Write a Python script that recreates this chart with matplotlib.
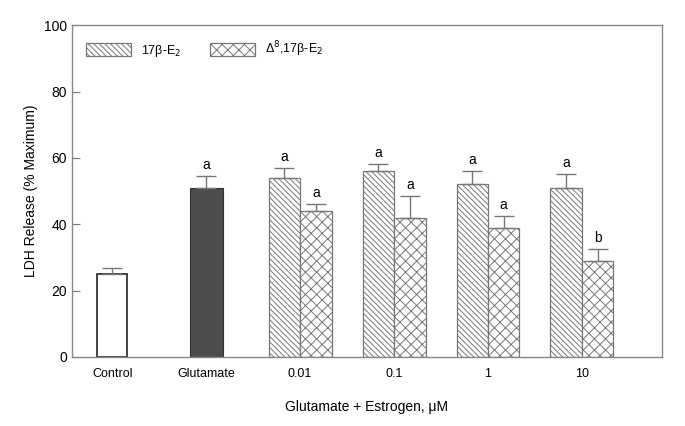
import numpy as np
import matplotlib.pyplot as plt

plt.rcParams['font.family'] = ['Liberation Sans', 'DejaVu Sans']
plt.rcParams['hatch.color'] = '#777777'
plt.rcParams['hatch.linewidth'] = 0.7

# data
single_labels = ["Control", "Glutamate"]
single_vals = [25, 51]
single_err = [1.8, 3.6]
single_sig = ["", "a"]

doses = ["0.01", "0.1", "1", "10"]
e2_vals = [54, 56, 52, 51]
e2_err = [3.0, 2.2, 4.0, 4.2]
e2_sig = ["a", "a", "a", "a"]
d8_vals = [44, 42, 39, 29]
d8_err = [2.0, 6.5, 3.6, 3.6]
d8_sig = ["a", "a", "a", "b"]

fig = plt.figure(figsize=(6.85, 4.26), dpi=100)
ax = fig.add_axes([0.105, 0.162, 0.861, 0.779])

edge = '#777777'
w1 = 0.32
w2 = 0.335

# control and glutamate
ax.bar(0, single_vals[0], w1, color='white', edgecolor='#222222', linewidth=1.2, zorder=2)
ax.bar(1, single_vals[1], w1 + 0.03, color='#4d4d4d', edgecolor='#333333', linewidth=0.8, zorder=2)
for i in range(2):
    ax.errorbar(i, single_vals[i], yerr=[[0], [single_err[i]]], fmt='none',
                ecolor=edge, elinewidth=1, capsize=7, capthick=1, zorder=3)
    if single_sig[i]:
        ax.text(i, single_vals[i] + single_err[i] + 1.2, single_sig[i],
                ha='center', va='bottom', fontsize=10)

x = np.arange(2, 2 + len(doses))
b1 = ax.bar(x - w2 / 2, e2_vals, w2, color='white', edgecolor=edge, linewidth=0.9,
            hatch='\\\\\\\\\\\\', label='17β-E$_2$', zorder=2)
b2 = ax.bar(x + w2 / 2, d8_vals, w2, color='white', edgecolor=edge, linewidth=0.9,
            hatch='xxx', label='Δ$^8$,17β-E$_2$', zorder=2)
ax.errorbar(x - w2 / 2, e2_vals, yerr=[np.zeros(len(x)), e2_err], fmt='none',
            ecolor=edge, elinewidth=1, capsize=7, capthick=1, zorder=3)
ax.errorbar(x + w2 / 2, d8_vals, yerr=[np.zeros(len(x)), d8_err], fmt='none',
            ecolor=edge, elinewidth=1, capsize=7, capthick=1, zorder=3)
for i in range(len(x)):
    ax.text(x[i] - w2 / 2, e2_vals[i] + e2_err[i] + 1.2, e2_sig[i],
            ha='center', va='bottom', fontsize=10)
    ax.text(x[i] + w2 / 2, d8_vals[i] + d8_err[i] + 1.2, d8_sig[i],
            ha='center', va='bottom', fontsize=10)

ax.set_xlim(-0.43, 5.85)
ax.set_ylim(0, 100)
ax.set_yticks([0, 20, 40, 60, 80, 100])
ax.set_xticks(np.arange(6))
ax.set_xticklabels(single_labels + doses, fontsize=9)
ax.tick_params(axis='x', length=0, pad=8)
ax.tick_params(axis='y', direction='in', length=6, color=edge, labelsize=10)
for s in ax.spines.values():
    s.set_color('#888888')
    s.set_linewidth(1)

ax.set_ylabel("LDH Release (% Maximum)", fontsize=10)
ax.set_xlabel("Glutamate + Estrogen, μM", fontsize=10, labelpad=14)

leg = ax.legend(handles=[b1, b2], loc='upper left', ncol=2, frameon=False,
                fontsize=9, handlelength=3.6, handleheight=1.2,
                columnspacing=2.3, bbox_to_anchor=(0.005, 0.99))

fig.savefig("out.png", dpi=100)
